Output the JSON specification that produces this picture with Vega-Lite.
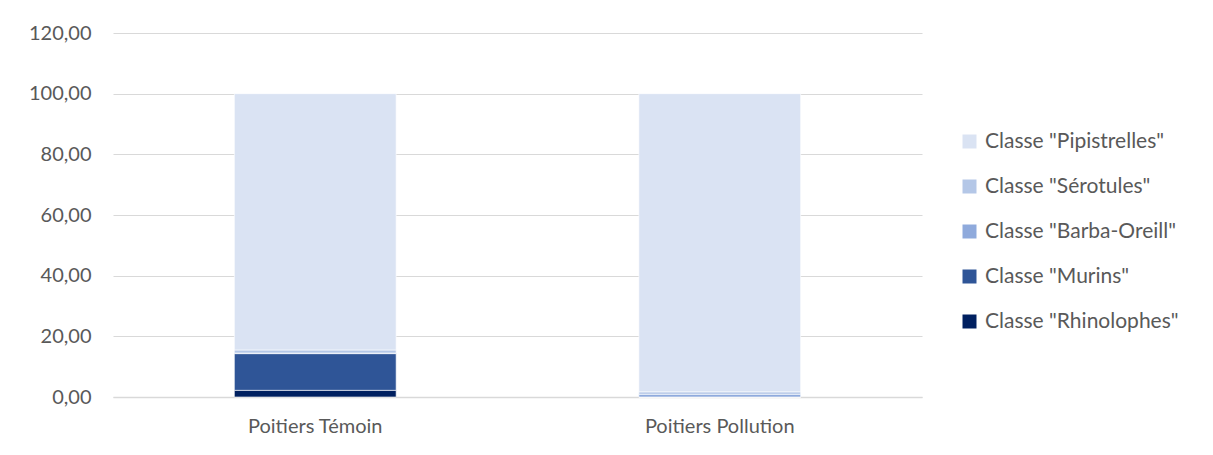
{
  "$schema": "https://vega.github.io/schema/vega-lite/v6.json",
  "width": 809,
  "height": 364,
  "autosize": {"type": "none"},
  "padding": {"left": 113, "top": 33, "right": 291, "bottom": 58},
  "background": "white",
  "data": {
    "values": [
      {"site": "Poitiers Témoin", "classe": "Classe \"Rhinolophes\"", "rang": 1, "valeur": 2.2},
      {"site": "Poitiers Témoin", "classe": "Classe \"Murins\"", "rang": 2, "valeur": 12.1},
      {"site": "Poitiers Témoin", "classe": "Classe \"Barba-Oreill\"", "rang": 3, "valeur": 0.2},
      {"site": "Poitiers Témoin", "classe": "Classe \"Sérotules\"", "rang": 4, "valeur": 1.0},
      {"site": "Poitiers Témoin", "classe": "Classe \"Pipistrelles\"", "rang": 5, "valeur": 84.5},
      {"site": "Poitiers Pollution", "classe": "Classe \"Rhinolophes\"", "rang": 1, "valeur": 0.0},
      {"site": "Poitiers Pollution", "classe": "Classe \"Murins\"", "rang": 2, "valeur": 0.0},
      {"site": "Poitiers Pollution", "classe": "Classe \"Barba-Oreill\"", "rang": 3, "valeur": 0.9},
      {"site": "Poitiers Pollution", "classe": "Classe \"Sérotules\"", "rang": 4, "valeur": 0.8},
      {"site": "Poitiers Pollution", "classe": "Classe \"Pipistrelles\"", "rang": 5, "valeur": 98.3}
    ]
  },
  "mark": {"type": "bar", "stroke": "white", "strokeWidth": 0.6},
  "encoding": {
    "x": {
      "field": "site",
      "type": "nominal",
      "sort": ["Poitiers Témoin", "Poitiers Pollution"],
      "scale": {"paddingInner": 0.6, "paddingOuter": 0.3},
      "axis": {
        "title": null,
        "labelAngle": 0,
        "ticks": false,
        "labelPadding": 19,
        "domainColor": "#d9d9d9",
        "domainWidth": 1.5
      }
    },
    "y": {
      "field": "valeur",
      "type": "quantitative",
      "stack": "zero",
      "scale": {"domain": [0, 120], "nice": false},
      "axis": {
        "title": null,
        "values": [0, 20, 40, 60, 80, 100, 120],
        "format": ".2f",
        "domain": false,
        "ticks": false,
        "labelPadding": 22,
        "gridColor": "#d9d9d9",
        "gridWidth": 1
      }
    },
    "color": {
      "field": "classe",
      "type": "nominal",
      "scale": {
        "domain": ["Classe \"Pipistrelles\"", "Classe \"Sérotules\"", "Classe \"Barba-Oreill\"", "Classe \"Murins\"", "Classe \"Rhinolophes\""],
        "range": ["#dae3f3", "#b4c7e7", "#8faadc", "#2f5597", "#002060"]
      },
      "legend": {
        "title": null,
        "orient": "none",
        "legendX": 846,
        "legendY": 98,
        "symbolType": "square",
        "symbolSize": 196,
        "symbolStrokeWidth": 0,
        "rowPadding": 23,
        "labelOffset": 5,
        "labelFontSize": 21,
        "labelColor": "#595959",
        "labelFont": "Lato",
        "labelLimit": 300
      }
    },
    "order": {"field": "rang", "type": "quantitative"}
  },
  "config": {
    "locale": {"number": {"decimal": ",", "thousands": " ", "grouping": [3], "currency": ["", " €"]}},
    "view": {"stroke": null},
    "axis": {"labelFont": "Lato", "labelFontSize": 20, "labelColor": "#595959"}
  }
}
